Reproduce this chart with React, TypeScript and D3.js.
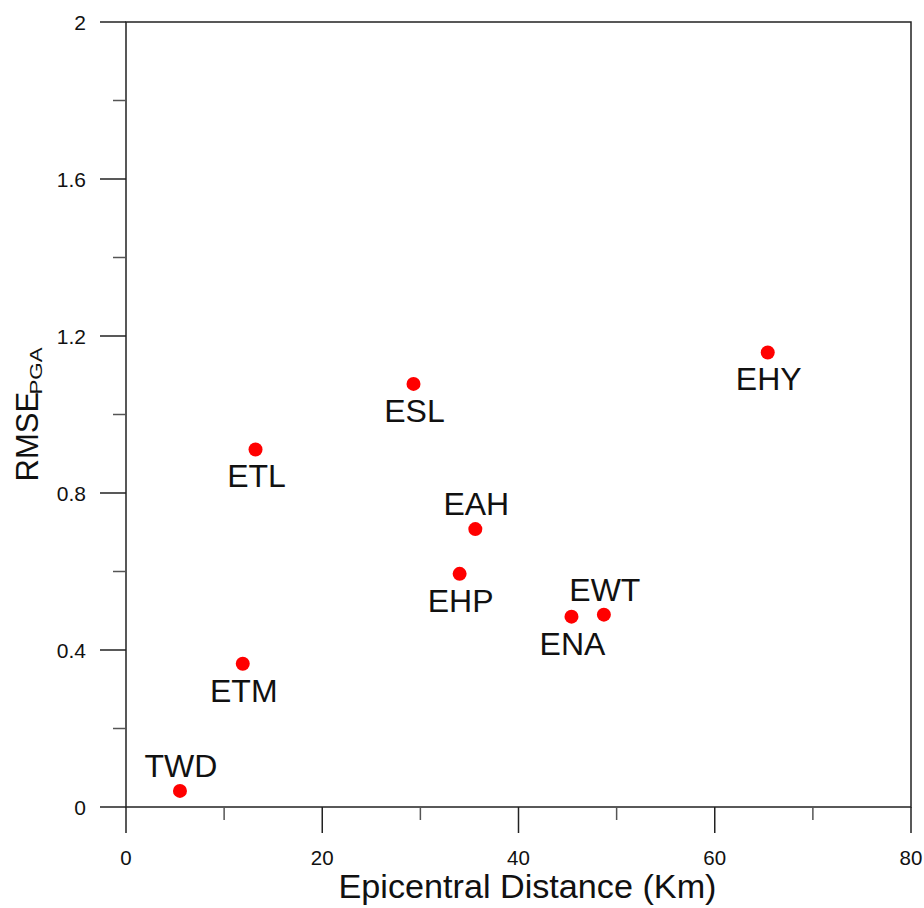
import React from "react";
import * as d3 from "d3";

// Station names, epicentral distance (km) and RMSE of PGA
const stations = ["TWD", "ETM", "ETL", "ESL", "EAH", "EHP", "ENA", "EWT", "EHY"];
const distances = [5.5, 11.9, 13.2, 29.3, 35.6, 34.0, 45.4, 48.7, 65.4];
const rmseValues = [0.041, 0.365, 0.911, 1.078, 0.708, 0.594, 0.485, 0.49, 1.158];
const labelSides = ["above", "below", "below", "below", "above", "below", "below", "above", "below"];

const xMajorTicks = [0, 20, 40, 60, 80];
const xMinorTicks = [10, 30, 50, 70];
const yMajorTicks = [0, 0.4, 0.8, 1.2, 1.6, 2];
const yMinorTicks = [0.2, 0.6, 1.0, 1.4, 1.8];

const WIDTH = 924;
const HEIGHT = 908;
const left = 126;
const right = 911;
const top = 22;
const bottom = 807;
const FONT = "'Liberation Sans', Arial, Helvetica, sans-serif";
const AXIS_COLOR = "#222";

export default function App() {
  const x = d3.scaleLinear().domain([0, 80]).range([left, right]);
  const y = d3.scaleLinear().domain([0, 2]).range([bottom, top]);

  const points = stations.map((name, i) => ({
    name,
    d: distances[i],
    r: rmseValues[i],
    side: labelSides[i],
  }));

  return (
    <svg
      width={WIDTH}
      height={HEIGHT}
      style={{ position: "absolute", left: 0, top: 0, background: "#fff" }}
      fontFamily={FONT}
    >
      {/* frame */}
      <rect
        x={left}
        y={top}
        width={right - left}
        height={bottom - top}
        fill="none"
        stroke={AXIS_COLOR}
        strokeWidth={1.5}
      />

      {/* y axis ticks */}
      {yMajorTicks.map((t) => (
        <g key={"ym" + t}>
          <line x1={left - 26} x2={left} y1={y(t)} y2={y(t)} stroke={AXIS_COLOR} strokeWidth={1.5} />
          <text x={86} y={y(t)} dy="0.36em" textAnchor="end" fontSize={21} fill="#111">
            {d3.format("~g")(t)}
          </text>
        </g>
      ))}
      {yMinorTicks.map((t) => (
        <line key={"yn" + t} x1={left - 13} x2={left} y1={y(t)} y2={y(t)} stroke="#555" strokeWidth={1.5} />
      ))}

      {/* x axis ticks */}
      {xMajorTicks.map((t) => (
        <g key={"xm" + t}>
          <line x1={x(t)} x2={x(t)} y1={bottom} y2={bottom + 26} stroke={AXIS_COLOR} strokeWidth={1.5} />
          <text x={x(t)} y={865} textAnchor="middle" fontSize={20.5} fill="#111">
            {t}
          </text>
        </g>
      ))}
      {xMinorTicks.map((t) => (
        <line key={"xn" + t} x1={x(t)} x2={x(t)} y1={bottom} y2={bottom + 13} stroke="#555" strokeWidth={1.5} />
      ))}

      {/* axis titles */}
      <text
        x={(left + right) / 2 + 9}
        y={898}
        textAnchor="middle"
        fontSize={33}
        fill="#111"
        textLength={378}
        lengthAdjust="spacingAndGlyphs"
      >
        Epicentral Distance (Km)
      </text>
      <g transform="translate(37.5,481.5) rotate(-90)">
        <text x={0} y={0} fontSize={31} fill="#111">
          RMSE
        </text>
        <text x={87} y={4} fontSize={17} fill="#111" textLength={47} lengthAdjust="spacingAndGlyphs">
          PGA
        </text>
      </g>

      {/* stations */}
      {points.map((p) => (
        <g key={p.name}>
          <circle cx={x(p.d)} cy={y(p.r)} r={7} fill="#ff0000" />
          <text
            x={x(p.d) + 1}
            y={y(p.r) + (p.side === "above" ? -14 : 38)}
            textAnchor="middle"
            fontSize={32}
            fill="#111"
          >
            {p.name}
          </text>
        </g>
      ))}
    </svg>
  );
}
